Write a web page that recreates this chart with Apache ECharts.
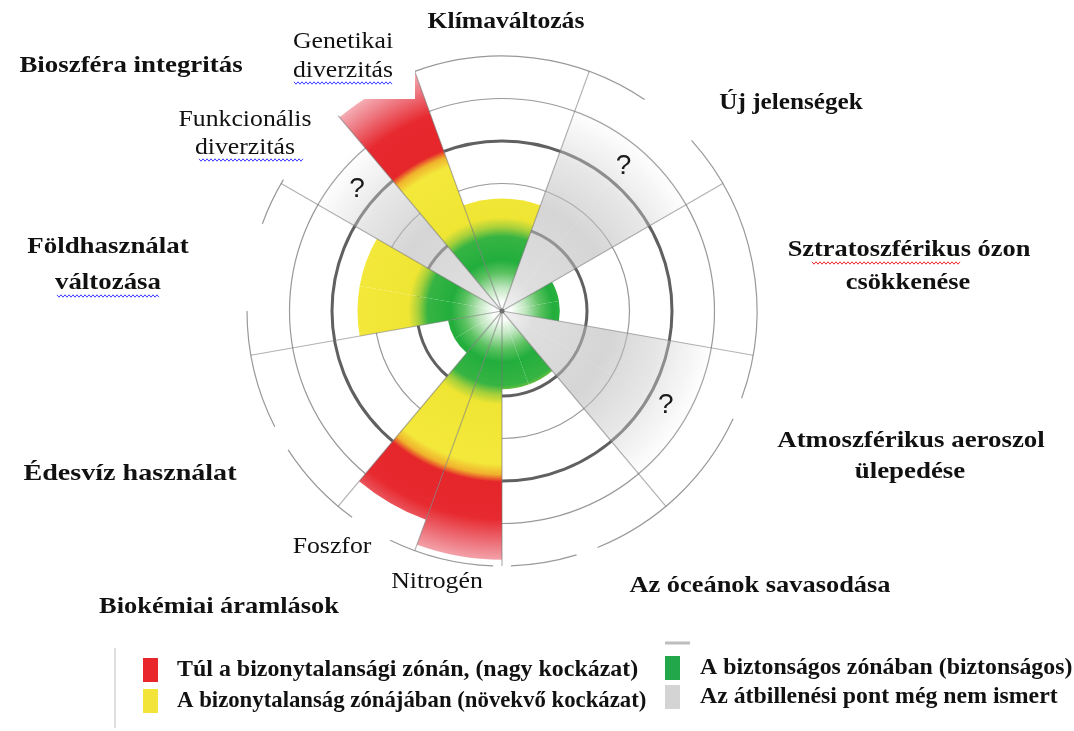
<!DOCTYPE html>
<html><head><meta charset="utf-8">
<script src="https://cdn.jsdelivr.net/npm/echarts@6/dist/echarts.min.js"></script>
<style>html,body{margin:0;padding:0;background:#fff}#c{width:1074px;height:731px}</style>
</head><body><div id="c"></div>
<script>
// ---------------- data ----------------
// planetary boundary segments, clockwise from the top (Klímaváltozás)
const segmentNames = ['Klímaváltozás','Új jelenségek','Sztratoszférikus ózon csökkenése','Atmoszférikus aeroszol ülepedése','Az óceánok savasodása','Nitrogén','Foszfor','Édesvíz használat','Földhasználat változása','Funkcionális diverzitás','Genetikai diverzitás'];
const segmentSlots = [2,2,2,2,2,1,1,2,2,1,1];                       // width in 20° slots
const segmentValues = [2.65, null, 1.36, null, 1.84, 5.85, 5.23, 1.29, 3.4, null, 5.95]; // boundary units; null = not yet quantified
const ringTicks = [2,3,4,5];          // 2 = safe boundary, 4 = high-risk threshold
const outerRingValue = 6;
const outerArcs = [[-20,34],[48,110],[115,158],[163,178],[182,206],[216,237],[243,270],[290,301]]; // compass degrees

const legendItems = ['Túl a bizonytalansági zónán, (nagy kockázat)','A bizonytalanság zónájában (növekvő kockázat)','A biztonságos zónában (biztonságos)','Az átbillenési pont még nem ismert'];

// ---------------- layout / style ----------------
const CX = 502, CY = 311, RMAX = 6, RPX = 255;
const SAFE = 2, RISK = 4, UNKNOWN_EXTENT = 5.3, QMARK_R = 4.45;

const slotNames = [], slotSeg = [];
segmentNames.forEach((n,i)=>{ for(let k=0;k<segmentSlots[i];k++){ slotNames.push(n+'#'+k); slotSeg.push(i); } });

function radial(stops){
  return {type:'radial', x:CX, y:CY, r:RPX, global:true,
    colorStops: stops.map(s=>({offset:s[0]/RMAX, color:s[1]}))};
}
const zoneGradient = radial([
  [0,'#ffffff'],[0.22,'#fbfefb'],[0.55,'#bfe6bf'],[0.9,'#5cc261'],[1.2,'#22ae3c'],[1.75,'#36b443'],
  [1.97,'#a6d03b'],[2.2,'#efe533'],[3.6,'#f4e93b'],[3.85,'#f0b12d'],[4.02,'#e5262a'],
  [4.9,'#e72a30'],[5.55,'#ee7c85'],[6,'#f6b3ba']
]);
const unknownGradient = radial([
  [0,'rgba(230,230,230,0.45)'],[0.8,'rgba(190,190,190,0.5)'],[2.6,'rgba(185,185,185,0.6)'],
  [3.8,'rgba(200,200,200,0.45)'],[4.6,'rgba(225,225,225,0.3)'],[UNKNOWN_EXTENT,'rgba(255,255,255,0)']
]);

const knownData = slotSeg.map(i => segmentValues[i] == null ? '-' : segmentValues[i]);
const unknownData = slotSeg.map(i => segmentValues[i] == null ? UNKNOWN_EXTENT : '-');

function angleOf(p, cs){ return Math.atan2(p[1]-cs.cy, p[0]-cs.cx); }

const chart = echarts.init(document.getElementById('c'), null, {renderer:'canvas'});

const BOLD = 'bold 24px "Liberation Serif"';
const REG = '23px "Liberation Serif"';
const BS = 1.12, RS = 1.12;
function txt(t, x, y, font, sx, align){
  return {type:'text', x, y, z:100, scaleX: sx||1,
    style:{text:t, font, fill:'#111', align: align||'center', verticalAlign:'middle',
           textAlign: align||'center', textVerticalAlign:'middle'}};
}
function wavy(x1, x2, y, color){
  const pts = []; let up = true;
  for(let x=x1; x<=x2; x+=2){ pts.push([x, y + (up?-1.2:1.2)]); up = !up; }
  return {type:'polyline', z:100, shape:{points:pts}, style:{stroke:color, lineWidth:1, fill:'none'}};
}
const labels = [
  txt('Klímaváltozás', 506, 22, BOLD, 1.07),
  txt('Bioszféra integritás', 131, 66, BOLD, BS),
  txt('Genetikai', 343, 42, REG, RS),
  txt('diverzitás', 343, 71, REG, RS),
  txt('Funkcionális', 245, 120, REG, RS),
  txt('diverzitás', 245, 148, REG, RS),
  txt('Új jelenségek', 791, 103, BOLD, 1.05),
  txt('Sztratoszférikus ózon', 909, 250, BOLD, 1.1),
  txt('csökkenése', 908, 283, BOLD, 1.1),
  txt('Földhasználat', 108, 247, BOLD, BS),
  txt('változása', 108, 283, BOLD, BS),
  txt('Atmoszférikus aeroszol', 911, 441, BOLD, BS),
  txt('ülepedése', 910, 472, BOLD, BS),
  txt('Édesvíz használat', 130, 474, BOLD, 1.17),
  txt('Foszfor', 332, 547, REG, RS),
  txt('Nitrogén', 437, 582, REG, RS),
  txt('Az óceánok savasodása', 760, 586, BOLD, 1.1),
  txt('Biokémiai áramlások', 219, 607, BOLD, 1.1),
  wavy(294, 393, 83, '#3b3bff'),
  wavy(199, 304, 160, '#3b3bff'),
  wavy(57, 160, 296, '#3b3bff'),
  wavy(812, 960, 263, '#e8282c')
];
const LEG = 'bold 23px "Liberation Serif"';
const legendColors = ['#e8262b','#f3e43a','#22a84a','#d4d4d4'];
const legendPos = [[143,670,177],[143,701,177],[665,668,700],[665,697,700]];
const legendScale = [1.04, 0.99, 1.035, 1.035];
const legendGraphics = [
  {type:'line', z:100, shape:{x1:115,y1:648,x2:115,y2:728}, style:{stroke:'#bdbdbd', lineWidth:1}},
  {type:'line', z:100, shape:{x1:665,y1:643,x2:690,y2:643}, style:{stroke:'#bdbdbd', lineWidth:3}}
];
legendItems.forEach((t,i)=>{
  const p = legendPos[i];
  legendGraphics.push({type:'rect', z:100, shape:{x:p[0], y:p[1]-12, width:15, height:24}, style:{fill:legendColors[i]}});
  legendGraphics.push(txt(t, p[2], p[1], LEG, legendScale[i], 'left'));
});

const option = {
  animation:false,
  backgroundColor:'#ffffff',
  polar:{center:[CX,CY], radius:RPX},
  angleAxis:{type:'category', data:slotNames, startAngle:110, clockwise:true, boundaryGap:true,
    axisLine:{show:false}, axisTick:{show:false}, axisLabel:{show:false}, splitLine:{show:false}},
  radiusAxis:{type:'value', min:0, max:RMAX,
    axisLine:{show:false}, axisTick:{show:false}, axisLabel:{show:false}, splitLine:{show:false}},
  graphic:[
    {type:'rect', z:90, shape:{x:284, y:24, width:131, height:75}, style:{fill:'#ffffff'}},
    ...labels, ...legendGraphics
  ],
  series:[
    { // rings
      type:'custom', coordinateSystem:'polar', z:1, silent:true,
      data: ringTicks.map(v=>[v,0]),
      renderItem(params, api){
        const cs = params.coordSys, v = api.value(0);
        const p = api.coord([v,0]);
        const r = Math.hypot(p[0]-cs.cx, p[1]-cs.cy);
        const dark = (v===SAFE || v===RISK);
        return {type:'circle', shape:{cx:cs.cx, cy:cs.cy, r},
          style:{fill:'none', stroke: dark?'#606060':'#999999', lineWidth: dark?3:1.2}};
      }
    },
    { // outer uncertainty arcs
      type:'custom', coordinateSystem:'polar', z:1, silent:true,
      data: outerArcs,
      renderItem(params, api){
        const cs = params.coordSys;
        const p = api.coord([outerRingValue,0]);
        const r = Math.hypot(p[0]-cs.cx, p[1]-cs.cy);
        const a0 = (api.value(0)-90)*Math.PI/180, a1 = (api.value(1)-90)*Math.PI/180;
        return {type:'arc', shape:{cx:cs.cx, cy:cs.cy, r, startAngle:a0, endAngle:a1, clockwise:true},
          style:{fill:'none', stroke:'#999999', lineWidth:1.2}};
      }
    },
    { // not yet quantified
      type:'bar', coordinateSystem:'polar', z:2, name:'unknown', data: unknownData,
      barCategoryGap:'0%', barGap:'-100%', itemStyle:{color: unknownGradient}
    },
    { // quantified
      type:'bar', coordinateSystem:'polar', z:3, name:'status', data: knownData,
      barCategoryGap:'0%', barGap:'-100%', itemStyle:{color: zoneGradient}
    },
    { // radial lines at segment boundaries
      type:'custom', coordinateSystem:'polar', z:4, silent:true,
      data: segmentNames.map((n,i)=>[i]),
      renderItem(params, api){
        const cs = params.coordSys, i = api.value(0);
        let first = 0; for(let k=0;k<i;k++) first += segmentSlots[k];
        const pa = api.coord([outerRingValue, first]);
        const pb = api.coord([outerRingValue, (first+1) % slotNames.length]);
        const aa = angleOf(pa, cs), ab = angleOf(pb, cs);
        let step = ab - aa; while(step < -Math.PI) step += 2*Math.PI; while(step > Math.PI) step -= 2*Math.PI;
        const a = aa - step/2;
        const r = Math.hypot(pa[0]-cs.cx, pa[1]-cs.cy);
        const children = [{type:'line', shape:{x1:cs.cx, y1:cs.cy, x2:cs.cx+r*Math.cos(a), y2:cs.cy+r*Math.sin(a)},
          style:{stroke:'rgba(115,115,115,0.55)', lineWidth:1.2}}];
        if(i===0) children.push({type:'circle', shape:{cx:cs.cx, cy:cs.cy, r:2.5}, style:{fill:'#666'}});
        return {type:'group', children};
      }
    },
    { // question marks
      type:'custom', coordinateSystem:'polar', z:5, silent:true,
      data: segmentNames.map((n,i)=>[i]).filter(d=>segmentValues[d[0]]==null),
      renderItem(params, api){
        const cs = params.coordSys, i = api.value(0);
        let first = 0; for(let k=0;k<i;k++) first += segmentSlots[k];
        const last = first + segmentSlots[i] - 1;
        const pa = api.coord([QMARK_R, first]), pb = api.coord([QMARK_R, last]);
        const a = (angleOf(pa,cs)+angleOf(pb,cs))/2;
        const r = Math.hypot(pa[0]-cs.cx, pa[1]-cs.cy);
        return {type:'text', x: cs.cx + r*Math.cos(a), y: cs.cy + r*Math.sin(a),
          style:{text:'?', font:'28px "Liberation Sans"', fill:'#1a1a1a', align:'center', verticalAlign:'middle'}};
      }
    }
  ]
};
chart.setOption(option);
</script></body></html>
